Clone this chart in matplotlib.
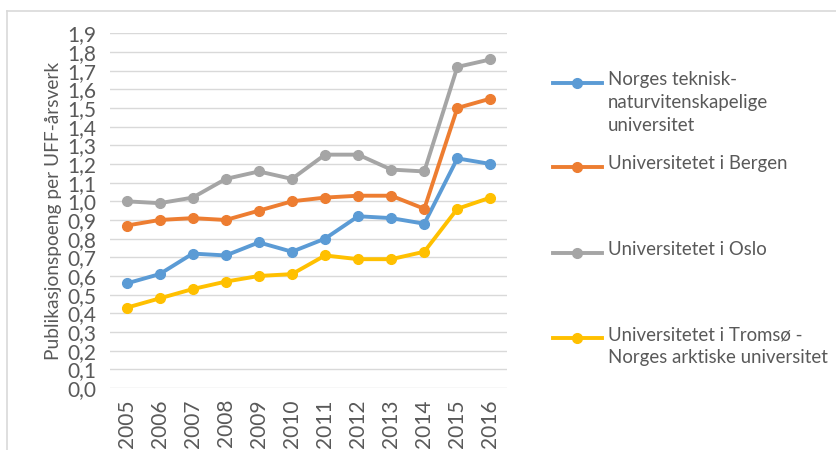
import matplotlib
matplotlib.use("Agg")
import matplotlib.pyplot as plt
from matplotlib.lines import Line2D

plt.rcParams['font.family'] = ['Lato', 'DejaVu Sans']

years = ["2005", "2006", "2007", "2008", "2009", "2010", "2011", "2012", "2013", "2014", "2015", "2016"]
ntnu = [0.56, 0.61, 0.72, 0.71, 0.78, 0.73, 0.80, 0.92, 0.91, 0.88, 1.23, 1.20]
uib = [0.87, 0.90, 0.91, 0.90, 0.95, 1.00, 1.02, 1.03, 1.03, 0.96, 1.50, 1.55]
uio = [1.00, 0.99, 1.02, 1.12, 1.16, 1.12, 1.25, 1.25, 1.17, 1.16, 1.72, 1.76]
uit = [0.43, 0.48, 0.53, 0.57, 0.60, 0.61, 0.71, 0.69, 0.69, 0.73, 0.96, 1.02]

labels = ["Norges teknisk-\nnaturvitenskapelige\nuniversitet",
          "Universitetet i Bergen",
          "Universitetet i Oslo",
          "Universitetet i Tromsø -\nNorges arktiske universitet"]
colors = ["#5B9BD5", "#ED7D31", "#A5A5A5", "#FFC000"]
yticks = [i / 10 for i in range(20)]
ytick_labels = [f"{v:.1f}".replace(".", ",") for v in yticks]
ylabel = "Publikasjonspoeng per UFF-årsverk"

W, H = 837, 450
fig = plt.figure(figsize=(W / 100, H / 100), dpi=100)
fig.patch.set_facecolor("white")

# outer chart frame
fig.add_artist(Line2D([7 / W, 7 / W], [0, 1 - 11 / H], transform=fig.transFigure, color="#D9D9D9", lw=1.2))
fig.add_artist(Line2D([7 / W, 1], [1 - 11 / H, 1 - 11 / H], transform=fig.transFigure, color="#D9D9D9", lw=1.2))

ax = fig.add_axes([110 / W, 1 - 388 / H, (507 - 110) / W, (388 - 33.3) / H])
x = list(range(len(years)))
series = [ntnu, uib, uio, uit]
for vals, c in zip(series, colors):
    ax.plot(x, vals, color=c, lw=2.8, marker="o", markersize=7, solid_capstyle="round", zorder=3)

ax.set_xlim(-0.5, len(years) - 0.5)
ax.set_ylim(0, 1.9)
ax.set_yticks(yticks)
ax.set_yticklabels(ytick_labels)
ax.set_xticks(x)
ax.set_xticklabels(years, rotation=90)
ax.grid(axis="y", color="#D9D9D9", lw=1.0)
ax.set_axisbelow(True)
for s in ax.spines.values():
    s.set_visible(False)
ax.tick_params(axis="both", length=0, colors="#595959", labelsize=15)
ax.tick_params(axis="y", pad=10)
ax.tick_params(axis="x", pad=8)
ax.set_ylabel(ylabel, fontsize=13.8, color="#595959", labelpad=4)

# legend drawn manually
leg_y = [83, 167, 253, 338]
for lab, c, yy in zip(labels, colors, leg_y):
    yf = 1 - yy / H
    fig.add_artist(Line2D([553 / W, 602 / W], [yf, yf], transform=fig.transFigure, color=c, lw=2.8))
    fig.add_artist(Line2D([577.5 / W], [yf], transform=fig.transFigure, color=c, marker="o", markersize=7, lw=0))
    fig.text(608 / W, yf + 11.5 / H, lab, ha="left", va="top", fontsize=13.4, color="#595959", linespacing=1.4)

fig.savefig("out.png", dpi=100)
